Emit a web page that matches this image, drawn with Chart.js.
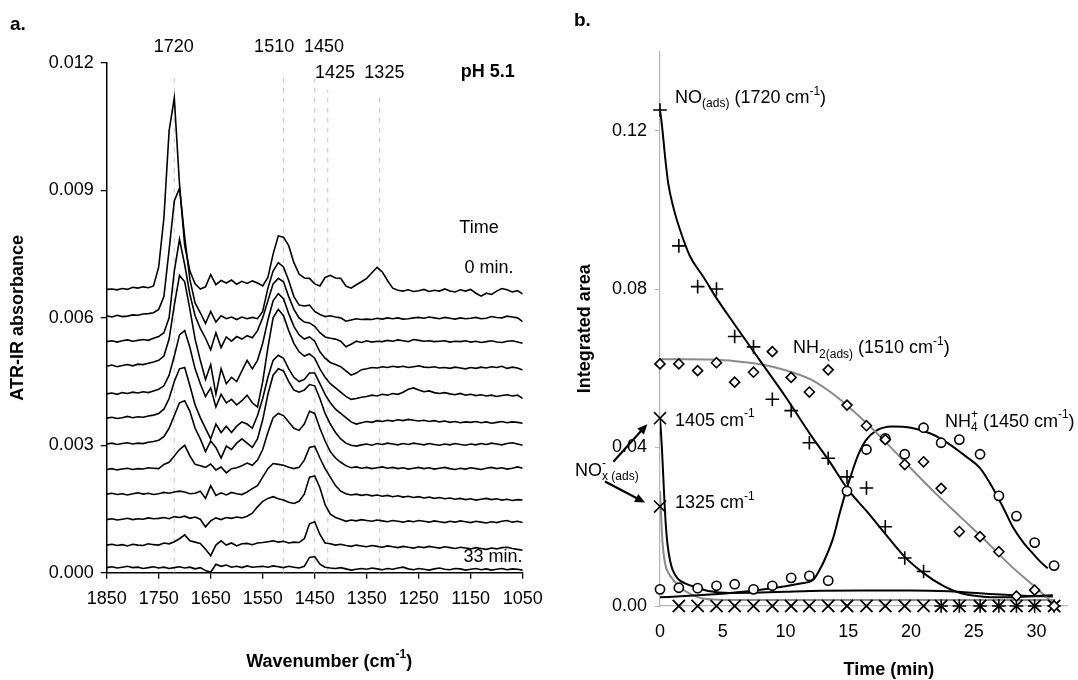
<!DOCTYPE html>
<html>
<head>
<meta charset="utf-8">
<script src="https://cdn.jsdelivr.net/npm/chart.js@4.4.1/dist/chart.umd.min.js"></script>
<style>
  body { margin: 0; background: #fff; }
  #wrap { position: relative; width: 1078px; height: 680px; overflow: hidden; font-family: "Liberation Sans", Arial, sans-serif; }
  canvas { position: absolute; top: 0; }
  #specs { left: 0; }
  #kin { left: 540px; }
  .tag { position: absolute; font-weight: bold; font-size: 19px; line-height: 19px; }
</style>
</head>
<body>
<div id="wrap">
  <canvas id="specs" width="560" height="680"></canvas>
  <canvas id="kin" width="538" height="680"></canvas>
  <div class="tag" style="left:10px; top:14px">a.</div>
  <div class="tag" style="left:574px; top:10px">b.</div>
</div>
<script>
// panel a: ATR-IR spectra (absorbance x 10^4), one array per scan
const wavenumbers = [1850, 1840, 1830, 1820, 1810, 1800, 1790, 1780, 1770, 1760,
  1750, 1740, 1730, 1720, 1710, 1700, 1690, 1680, 1670, 1660,
  1650, 1640, 1630, 1620, 1610, 1600, 1590, 1580, 1570, 1560,
  1550, 1540, 1530, 1520, 1510, 1500, 1490, 1480, 1470, 1460,
  1450, 1440, 1430, 1420, 1410, 1400, 1390, 1380, 1370, 1360,
  1350, 1340, 1330, 1320, 1310, 1300, 1290, 1280, 1270, 1260,
  1250, 1240, 1230, 1220, 1210, 1200, 1190, 1180, 1170, 1160,
  1150, 1140, 1130, 1120, 1110, 1100, 1090, 1080, 1070, 1060, 1050];

const scan00 = [66.7, 66.8, 66.6, 66.9, 66.7, 67.2, 67.0, 67.3, 67.1, 67.5,
  72, 83.5, 104, 111.8, 91.5, 77, 71, 68, 66.8, 67.3,
  70.2, 67.8, 68.8, 68.2, 68.9, 67.9, 68.6, 68.1, 68.7, 68.2,
  67.5, 69.5, 75, 79.3, 79, 77, 73, 70.3, 69.4, 69.3,
  68, 67.5, 69.5, 70, 69.4, 69.3, 67.5, 67, 67.8, 68.5,
  69.3, 70.6, 71.9, 70.8, 68.8, 67, 66.5, 66.3, 66.6, 66.2,
  66.4, 66.7, 66.2, 66.5, 66.3, 66.8, 66.3, 66.1, 66.6, 66.3,
  66.7, 65.8, 65.1, 65.8, 65.5, 66.3, 66.9, 66.6, 66.1, 66.4, 65.6];
const scan03 = [60.5, 60.2, 60.6, 60.3, 60.4, 60.7, 60.6, 60.9, 61.0, 61.2,
  62, 65, 76, 87.5, 90.5, 79, 69, 63.5, 61.2, 58.7,
  61.5, 59, 60.5, 59.8, 60.2, 59.6, 60.2, 59.8, 60.1, 59.8,
  61.5, 67, 71, 73, 72, 68.8, 65, 63, 62.8, 63,
  61.5, 60.8, 60.3, 60.5, 60.2, 60, 59.2, 59.5, 59.8, 59.6,
  59.7, 59.6, 59.9, 59.7, 60, 59.8, 60, 59.7, 59.8, 60,
  60.1, 59.9, 60.2, 60, 59.8, 60.1, 59.9, 59.7, 60, 59.8,
  59.9, 60.1, 59.8, 59.9, 60.3, 60.1, 60, 60.4, 60.2, 60, 59.1];
const scan06 = [54.4, 54.6, 54.3, 54.6, 54.8, 54.5, 54.7, 54.9, 54.7, 55.2,
  55.6, 56.5, 60, 71, 78.5, 72.5, 65.5, 60.5, 57.5, 55.2,
  52.5, 56.5, 53, 55.5, 54.5, 55.6, 55, 55.8, 55.3, 57,
  60, 64, 68, 69.3, 68.5, 65, 62, 60, 59, 58.8,
  58, 56.5, 55.5, 55.2, 55, 54.5, 53.2, 53.8, 54.5, 54.2,
  54.6, 54.3, 54.5, 54.4, 54.7, 54.5, 54.8, 54.6, 54.4, 54.9,
  54.7, 54.5, 54.6, 54.4, 54.5, 54.6, 54.3, 54.5, 54.4, 54.6,
  54.3, 54.5, 54.2, 54.4, 54.6, 54.3, 54.2, 54.5, 54.6, 54.3, 54];
const scan09 = [48.6, 48.9, 48.5, 48.8, 49.0, 48.7, 49.1, 49.0, 49.3, 49.6,
  50, 51, 55, 63, 70, 68.5, 62, 55, 50, 45.5,
  49, 42, 48, 44.5, 46, 45, 47.5, 50, 48, 50,
  54, 59.5, 64, 65.7, 64.5, 61, 58, 56, 55, 55.5,
  54.5, 52, 50.5, 49.5, 49, 48.5, 47.5, 46.5, 47, 47.8,
  48, 48.3, 48.2, 48.5, 48.3, 48.6, 48.4, 48.6, 48.3, 48.5,
  48.7, 48.4, 48.3, 48.5, 48.2, 48.3, 48.1, 48.4, 48.2, 48,
  48.3, 48.1, 48.4, 48.2, 48.5, 48.3, 48.6, 48.1, 48.4, 48.2, 47.7];
const scan12 = [42.1, 42.3, 42.0, 42.4, 42.2, 42.5, 42.3, 42.6, 42.4, 42.8,
  43.2, 44, 46.5, 51, 56, 57, 53, 48, 44.5, 41.5,
  43.5, 39, 42, 40, 40.8, 39.5, 40.5, 41.8, 40, 39,
  45, 53, 60, 62, 60.5, 57, 54, 52, 51, 51.5,
  50.5, 48, 46, 44.5, 43.5, 42.5, 41.5, 40.8, 41, 41.3,
  41.5, 41.8, 41.6, 42, 41.8, 42.2, 42, 42.5, 43.2, 43.5,
  43, 42.6, 42.8, 42.4, 42.2, 42.4, 42.1, 41.9, 42.2, 41.8,
  42, 41.7, 41.9, 41.6, 41.8, 41.5, 41.7, 41.9, 41.6, 41.8, 41];
const scan15 = [36.4, 36.6, 36.3, 36.5, 36.8, 36.5, 36.7, 36.6, 36.9, 37.1,
  37.5, 38.5, 41, 45, 48, 48.3, 44, 39.5, 36.5, 34,
  31.5, 35, 33, 34.5, 33, 34.5, 35.5, 35, 34, 37,
  41, 46, 50, 51.2, 50.5, 48, 46, 45, 45.5, 47,
  47, 44.5, 42, 40, 38.5, 37.5, 36.5, 35.5, 35, 35.3,
  35.6, 35.4, 35.8, 35.6, 35.9, 35.7, 36, 35.8, 36.1, 35.9,
  35.7, 35.9, 35.6, 35.8, 35.5, 35.7, 35.4, 35.6, 35.3, 35.5,
  35.4, 35.6, 35.3, 35.5, 35.2, 35.4, 35.6, 35.3, 35.5, 35.4, 35.2];
const scan18 = [30.3, 30.5, 30.2, 30.4, 30.6, 30.3, 30.5, 30.4, 30.7, 30.9,
  31.2, 32, 34, 37, 40, 40.5, 38, 34, 31.5, 28.5,
  31, 29.5, 27, 29.8, 29, 30.5, 31.5, 30.5, 29.5, 31.5,
  36, 42, 46.5, 48, 47.5, 45, 43, 42.5, 43, 44.3,
  44, 41, 37.5, 35, 33, 31.5, 30.5, 30, 29.8, 30.1,
  30.3, 30, 30.4, 30.2, 30.5, 30.3, 30.1, 30.4, 30.2, 30.5,
  30.3, 30.1, 30.4, 30.2, 30, 30.3, 30.1, 30.4, 30.2, 30,
  30.3, 30.1, 30.4, 30.2, 30.5, 30.3, 30.1, 30.4, 30.6, 30.3, 30];
const scan21 = [24.3, 24.5, 24.2, 24.4, 24.6, 24.3, 24.5, 24.4, 24.7, 24.6,
  24.5, 25.5, 26, 27.5, 29, 30, 27.5, 25.5, 25.2, 24.8,
  25.6, 24.2, 24.9, 23.5, 24.5, 24.7, 25.2, 25.8, 25.3, 26.5,
  29, 33, 36.5, 37.5, 37, 35.5, 34, 33.5, 35, 38,
  37.5, 34, 31, 28.5, 27, 26, 25.2, 24.7, 24.9, 24.6,
  24.8, 24.5, 24.7, 24.9, 24.6, 24.8, 24.5, 24.7, 24.4, 24.6,
  24.8, 24.5, 24.7, 24.4, 24.6, 24.8, 24.5, 24.3, 24.6, 24.4,
  24.7, 24.5, 24.3, 24.6, 24.8, 24.5, 24.7, 24.4, 24.6, 24.9, 24.6];
const scan24 = [18.5, 18.7, 18.4, 18.6, 18.3, 18.6, 18.8, 18.5, 18.7, 18.4,
  18.6, 18.9, 18.7, 19, 19.2, 19, 18.6, 18.7, 19.2, 17.5,
  20.5, 18.2, 18.8, 18.3, 18.9, 18.6, 18.4, 19, 19.8, 20.5,
  22.5, 24.5, 25.7, 25.5, 25.3, 24.8, 24.5, 24.8, 26.5, 29.5,
  29.8, 27, 24.5, 22.5, 20.5, 19.2, 18.6, 18.3, 18.5, 18.2,
  18.4, 18.1, 18.3, 18, 18.2, 17.9, 18.1, 17.8, 18, 17.7,
  17.9, 17.6, 17.8, 17.5, 17.7, 17.4, 17.6, 17.3, 17.5, 17.2,
  17.4, 17.1, 17.3, 17.5, 17.2, 17.4, 17.1, 17.3, 17, 17.2, 17.1];
const scan27 = [12.5, 12.7, 12.4, 12.6, 12.8, 12.5, 12.7, 12.6, 12.9, 12.7,
  12.8, 13, 12.7, 13.2, 13, 13.3, 12.8, 13.1, 12.6, 10.8,
  12.2, 12.9, 12.5, 13, 12.8, 13.1, 12.9, 13.3, 14, 15.5,
  16.8, 17.5, 17.9, 17.4, 17.1, 16.6, 16.3, 16.8, 18.5, 22.5,
  22.8, 20, 16, 13.8, 13, 12.6, 12.1, 12.4, 12.2, 12.5,
  12.3, 12.1, 12.4, 12.2, 12, 12.3, 12.1, 11.9, 12.2, 12,
  12.3, 12.1, 11.9, 12.2, 12, 11.8, 12.1, 11.9, 12.2, 12,
  11.8, 12.1, 11.9, 11.7, 12, 11.8, 12.1, 12.3, 11.9, 12.1, 11.8];
const scan30 = [6.5, 6.7, 6.4, 6.6, 6.3, 6.7, 6.5, 6.4, 6.8, 6.6,
  6.5, 7, 6.8, 7.3, 8, 8.9, 7.5, 7.2, 6.9, 5.5,
  4, 6.5, 7.5, 6.5, 7, 6.3, 6.8, 6.9, 6.6, 7,
  7.1, 7.3, 7.5, 7.2, 7.4, 7, 7.2, 7.1, 8, 11.5,
  12, 9, 7, 6.8, 6.5, 6.7, 6.4, 6.2, 6.5, 6.3,
  6.1, 6.4, 6.2, 6, 6.3, 6.1, 5.9, 6.2, 6, 5.8,
  6.1, 5.9, 6.2, 6, 5.8, 6.1, 5.9, 5.7, 6, 5.8,
  5.6, 5.9, 5.7, 5.5, 5.8, 5.6, 5.9, 6, 5.7, 5.5, 5.3];
const scan33 = [1.2, 1.4, 1.1, 1.3, 1.5, 1.2, 1.3, 1.0, 1.2, 1.4,
  1.1, 1.3, 1.0, 1.2, 1.4, 1.1, 1.3, 0.9, 1.2, 0.5,
  0.1, 2.0, 1.5, 1.8, 1.3, 1.5, 1.2, 1.6, 1.3, 1.4,
  1.5, 1.3, 1.6, 1.4, 1.2, 1.5, 1.3, 1.1, 1.5, 3.6,
  3.8, 2, 1.3, 1.1, 1.0, 1.2, 0.9, 0.6, 0.8, 1.0,
  0.8, 1.1, 0.9, 0.7, 1.0, 0.8, 1.1, 1.3, 0.9, 0.7,
  1.0, 0.8, 0.6, 0.9, 1.1, 0.8, 0.7, 1.0, 0.9, 0.6,
  0.8, 1.0, 0.7, 0.9, 0.6, 0.8, 1.0, 0.7, 0.9, 0.8, 0.6];

const peakLines = [1720, 1510, 1450, 1425, 1325];
const peakLineTops = [0.01174, 0.01174, 0.01174, 0.01137, 0.01118];

// panel b: integrated band areas vs time
const times = [0, 1.5, 3.0, 4.5, 5.95, 7.45, 8.95, 10.45, 11.9, 13.4, 14.9,
  16.45, 17.95, 19.5, 21.0, 22.4, 23.85, 25.5, 27.0, 28.4, 29.85, 31.4];
const timeTicks = [0, 5, 10, 15, 20, 25, 30];
const areaTicks = [0, 0.04, 0.08, 0.12];
const noArea = [0.1252, 0.0909, 0.0806, 0.0800, 0.0680, 0.0654, 0.0522, 0.0493, 0.0412, 0.0373, 0.0326,
  0.0298, 0.0200, 0.0121, 0.0087, 0, 0, 0, 0, 0, 0, 0];
const nh2Area = [0.0611, 0.0611, 0.0594, 0.0614, 0.0565, 0.0590, 0.0642, 0.0577, 0.0540, 0.0596, 0.0507,
  0.0455, 0.0420, 0.0357, 0.0364, 0.0297, 0.0188, 0.0175, 0.0137, 0.0025, 0.0040, 0];
const nh4Area = [0.0042, 0.0046, 0.0045, 0.0051, 0.0055, 0.0042, 0.0051, 0.0071, 0.0076, 0.0064, 0.0290,
  0.0395, 0.0423, 0.0383, 0.0450, 0.0412, 0.0420, 0.0383, 0.0278, 0.0227, 0.0160, 0.0102];
const nox1405Area = [0.0474, 0, 0, 0, 0, 0, 0, 0, 0, 0, 0, 0, 0, 0, 0, 0, 0, 0, 0, 0, 0, 0];
const nox1325Area = [0.0251, 0, 0, 0, 0, 0, 0, 0, 0, 0, 0, 0, 0, 0, 0, 0, 0, 0, 0, 0, 0, 0];

// fitted curves
const noFitT = [0, 0.05, 0.2, 0.4, 0.65, 1.05, 1.6, 2.4, 3.45, 4.5, 6, 8, 10, 12, 13.5, 15, 16.5, 18, 19.5, 21, 22.5, 24, 26, 28, 30, 31.3];
const noFitV = [0.125, 0.124, 0.120, 0.1135, 0.1068, 0.1008, 0.0949, 0.0882, 0.0831, 0.0777, 0.0708, 0.0618, 0.0528, 0.0432,
  0.0365, 0.0293, 0.0238, 0.0180, 0.0124, 0.0083, 0.0052, 0.0032, 0.0023, 0.0022, 0.0025, 0.0027];
const nh2FitT = [0, 2, 4, 6, 8, 10, 12, 14, 16, 18, 20, 22, 24, 26, 28, 30, 31.4];
const nh2FitV = [0.0623, 0.0623, 0.0622, 0.0618, 0.0610, 0.0595, 0.0572, 0.0530, 0.0475, 0.0413, 0.0347,
  0.0283, 0.0223, 0.0163, 0.0100, 0.0045, 0.0005];
const nh4FitT = [0, 2, 4, 6, 8, 10, 11.2, 12.2, 12.7, 13.3, 13.8, 14.3, 14.8, 15.3, 15.8, 16.4, 17.2, 18.5,
  20, 21.5, 22.5, 24.4, 25.5, 26.6, 27.4, 28.1, 29, 29.7, 30.3, 30.9];
const nh4FitV = [0.0022, 0.0025, 0.0029, 0.0034, 0.0041, 0.0050, 0.0057, 0.0066, 0.0090, 0.0130, 0.0172, 0.0232,
  0.0288, 0.0338, 0.0382, 0.0418, 0.0442, 0.0453, 0.0450, 0.0436, 0.0420, 0.0377, 0.0348, 0.0293, 0.0245,
  0.0200, 0.0158, 0.0133, 0.0112, 0.0095];
const nox1405FitT = [0, 0.15, 0.3, 0.45, 0.6, 0.8, 1.0, 1.4, 2.0, 2.9, 4.0, 5.5, 8, 10, 12, 16, 20, 23, 26, 29, 31.3];
const nox1405FitV = [0.0474, 0.040, 0.030, 0.021, 0.0155, 0.0115, 0.0092, 0.0070, 0.0057, 0.0047, 0.0037, 0.0033,
  0.0034, 0.0036, 0.0038, 0.0039, 0.0039, 0.0037, 0.0031, 0.0026, 0.0024];
const nox1325FitT = [0, 0.1, 0.2, 0.4, 0.7, 1.06, 1.5, 2.1, 2.8, 3.4, 4.5, 5.8, 10, 15, 20, 25, 31.3];
const nox1325FitV = [0.029, 0.022, 0.016, 0.0108, 0.0082, 0.0066, 0.0050, 0.0036, 0.0025, 0.0019, 0.0016, 0.0015,
  0.0015, 0.0015, 0.0015, 0.0015, 0.0015];

const FONT = '"Liberation Sans", Arial, sans-serif';
Chart.defaults.font.family = FONT;
Chart.defaults.font.size = 18;
Chart.defaults.color = '#000';

// text with sub/superscripts; a segment is [text] or [text, 'sub'|'sup'] or {sup, sub}
function drawRich(ctx, x, y, segs, size, align, bold) {
  const small = Math.round(size * 0.64);
  const f = s => (bold ? 'bold ' : '') + s + 'px ' + FONT;
  const parts = segs.map(sg => {
    if (!Array.isArray(sg)) {
      ctx.font = f(small);
      return { stack: sg, w: Math.max(ctx.measureText(sg.sup).width, ctx.measureText(sg.sub).width) };
    }
    ctx.font = f(sg[1] ? small : size);
    return { txt: sg[0], kind: sg[1], w: ctx.measureText(sg[0]).width };
  });
  const total = parts.reduce((s, p) => s + p.w, 0);
  let cx = align === 'center' ? x - total / 2 : x;
  ctx.textAlign = 'left';
  ctx.textBaseline = 'middle';
  parts.forEach(p => {
    if (p.stack) {
      ctx.font = f(small);
      ctx.fillText(p.stack.sup, cx, y - size * 0.38);
      ctx.fillText(p.stack.sub, cx, y + size * 0.34);
    } else {
      ctx.font = f(p.kind ? small : size);
      const dy = p.kind === 'sub' ? size * 0.34 : p.kind === 'sup' ? -size * 0.38 : 0;
      ctx.fillText(p.txt, cx, y + dy);
    }
    cx += p.w;
  });
}

function notesPlugin(notes, arrows) {
  return {
    id: 'notes',
    afterDraw(chart) {
      const ctx = chart.ctx, xs = chart.scales.x, ys = chart.scales.y;
      ctx.save();
      ctx.fillStyle = '#000';
      ctx.strokeStyle = '#000';
      notes.forEach(n => drawRich(ctx, xs.getPixelForValue(n.x), ys.getPixelForValue(n.y),
        n.segs, 18, n.align || 'left', n.bold));
      (arrows || []).forEach(a => {
        const x0 = xs.getPixelForValue(a.from[0]), y0 = ys.getPixelForValue(a.from[1]);
        const x1 = xs.getPixelForValue(a.to[0]), y1 = ys.getPixelForValue(a.to[1]);
        const ang = Math.atan2(y1 - y0, x1 - x0);
        ctx.lineWidth = 2.2;
        ctx.beginPath();
        ctx.moveTo(x0, y0);
        ctx.lineTo(x1 - 6 * Math.cos(ang), y1 - 6 * Math.sin(ang));
        ctx.stroke();
        ctx.beginPath();
        ctx.moveTo(x1, y1);
        ctx.lineTo(x1 - 10 * Math.cos(ang) + 4.5 * Math.sin(ang), y1 - 10 * Math.sin(ang) - 4.5 * Math.cos(ang));
        ctx.lineTo(x1 - 10 * Math.cos(ang) - 4.5 * Math.sin(ang), y1 - 10 * Math.sin(ang) + 4.5 * Math.cos(ang));
        ctx.closePath();
        ctx.fill();
      });
      ctx.restore();
    }
  };
}

// ---------- panel a ----------
const scans = [scan00, scan03, scan06, scan09, scan12, scan15, scan18, scan21, scan24, scan27, scan30, scan33];
const specSets = scans.map(s => ({
  data: s.map((v, i) => ({ x: wavenumbers[i], y: v / 10000 })),
  showLine: true, borderColor: '#000', borderWidth: 1.6, pointRadius: 0, order: 0
}));
peakLines.forEach((w, i) => specSets.push({
  data: [{ x: w, y: 0 }, { x: w, y: peakLineTops[i] }],
  showLine: true, borderColor: '#cfcfcf', borderWidth: 1.2, borderDash: [5, 5], pointRadius: 0, order: 2
}));

const specNotes = [
  { segs: [['1720']], x: 1721, y: 0.01238, align: 'center' },
  { segs: [['1510']], x: 1528, y: 0.01238, align: 'center' },
  { segs: [['1450']], x: 1432, y: 0.01238, align: 'center' },
  { segs: [['1425']], x: 1411, y: 0.01177, align: 'center' },
  { segs: [['1325']], x: 1316, y: 0.01177, align: 'center' },
  { segs: [['pH 5.1']], x: 1117, y: 0.01179, align: 'center', bold: true },
  { segs: [['Time']], x: 1134, y: 0.00812, align: 'center' },
  { segs: [['0 min.']], x: 1115, y: 0.00717, align: 'center' },
  { segs: [['33 min.']], x: 1107, y: 0.00038, align: 'center' },
  { segs: [['Wavenumber (cm'], ['-1', 'sup'], [')']], x: 1422, y: -0.0021, align: 'center', bold: true }
];

new Chart(document.getElementById('specs'), {
  type: 'scatter',
  data: { datasets: specSets },
  options: {
    responsive: false,
    animation: false,
    events: [],
    layout: { padding: { left: 0, right: 37.3, top: 63, bottom: 0 } },
    plugins: { legend: { display: false }, tooltip: { enabled: false } },
    scales: {
      x: {
        type: 'linear', reverse: true, min: 1050, max: 1850,
        afterFit: s => { s.height = 107.3; },
        ticks: { stepSize: 100, padding: 10, maxRotation: 0, callback: v => String(v) },
        grid: { display: true, drawOnChartArea: false, tickLength: 6, color: '#000', lineWidth: 1.3 },
        border: { display: true, color: '#000', width: 1.5 }
      },
      y: {
        min: 0, max: 0.012,
        afterFit: s => { s.width = 106.7; },
        ticks: { stepSize: 0.003, padding: 7, callback: v => v.toFixed(3) },
        grid: { display: true, drawOnChartArea: false, tickLength: 6, color: '#000', lineWidth: 1.3 },
        border: { display: true, color: '#000', width: 1.5 },
        title: { display: true, text: 'ATR-IR absorbance', font: { weight: 'bold', size: 18 }, padding: { top: 7, bottom: 0 } }
      }
    }
  },
  plugins: [notesPlugin(specNotes)]
});

// ---------- panel b ----------
const pts = vals => vals.map((v, i) => ({ x: times[i], y: v }));
const curve = (ts, vs) => ts.map((t, i) => ({ x: t, y: vs[i] }));
const fitStyle = c => ({ showLine: true, borderColor: c, borderWidth: 2, pointRadius: 0, cubicInterpolationMode: 'monotone', order: 2 });
const markStyle = (style, r) => ({
  showLine: false, pointStyle: style, pointRadius: r, borderColor: '#000', backgroundColor: '#fff',
  pointBorderWidth: 1.6, clip: false, order: 0
});

const kinSets = [
  Object.assign({ data: curve(noFitT, noFitV) }, fitStyle('#000')),
  Object.assign({ data: curve(nh2FitT, nh2FitV) }, fitStyle('#8a8a8a')),
  Object.assign({ data: curve(nh4FitT, nh4FitV) }, fitStyle('#000')),
  Object.assign({ data: curve(nox1405FitT, nox1405FitV) }, fitStyle('#000')),
  Object.assign({ data: curve(nox1325FitT, nox1325FitV) }, fitStyle('#8a8a8a')),
  Object.assign({ data: pts(nh2Area) }, markStyle('rectRot', 5)),
  Object.assign({ data: pts(nh4Area) }, markStyle('circle', 4.6)),
  Object.assign({ data: pts(nox1405Area) }, markStyle('crossRot', 8.5)),
  Object.assign({ data: pts(nox1325Area) }, markStyle('crossRot', 8.5)),
  Object.assign({ data: pts(noArea) }, markStyle('cross', 6.8))
];

const kinNotes = [
  { segs: [['NO'], ['(ads)', 'sub'], [' (1720 cm'], ['-1', 'sup'], [')']], x: 1.2, y: 0.1282 },
  { segs: [['NH'], ['2(ads)', 'sub'], [' (1510 cm'], ['-1', 'sup'], [')']], x: 10.6, y: 0.065 },
  { segs: [['NH'], { sup: '+', sub: '4' }, [' (1450 cm'], ['-1', 'sup'], [')']], x: 22.7, y: 0.0465 },
  { segs: [['1405 cm'], ['-1', 'sup']], x: 1.2, y: 0.0468 },
  { segs: [['1325 cm'], ['-1', 'sup']], x: 1.2, y: 0.0259 },
  { segs: [['NO'], { sup: '-', sub: 'x (ads)' }], x: -6.77, y: 0.0341 },
  { segs: [['Time (min)']], x: 18.24, y: -0.01615, align: 'center', bold: true }
];
const kinArrows = [
  { from: [-3.72, 0.0364], to: [-1.01, 0.0459] },
  { from: [-4.38, 0.0314], to: [-1.19, 0.0261] }
];

new Chart(document.getElementById('kin'), {
  type: 'scatter',
  data: { datasets: kinSets },
  options: {
    responsive: false,
    animation: false,
    events: [],
    layout: { padding: { left: 0, right: 10, top: 51.3, bottom: 0 } },
    plugins: { legend: { display: false }, tooltip: { enabled: false } },
    scales: {
      x: {
        type: 'linear', min: 0, max: 32.5,
        afterFit: s => { s.height = 74; },
        afterBuildTicks: s => { s.ticks = timeTicks.map(v => ({ value: v })); },
        ticks: { padding: 7, maxRotation: 0, autoSkip: false, callback: v => String(v) },
        grid: { display: false },
        border: { display: true, color: '#b5b5b5', width: 1.2 }
      },
      y: {
        min: 0, max: 0.14,
        afterFit: s => { s.width = 120; },
        afterBuildTicks: s => { s.ticks = areaTicks.map(v => ({ value: v })); },
        ticks: { padding: 8, callback: v => v.toFixed(2) },
        grid: { display: true, drawOnChartArea: false, tickLength: 5, color: '#b5b5b5' },
        border: { display: true, color: '#b5b5b5', width: 1.2 },
        title: { display: true, text: 'Integrated area', font: { weight: 'bold', size: 18 }, padding: { top: 34, bottom: 0 } }
      }
    }
  },
  plugins: [notesPlugin(kinNotes, kinArrows)]
});
</script>
</body>
</html>
